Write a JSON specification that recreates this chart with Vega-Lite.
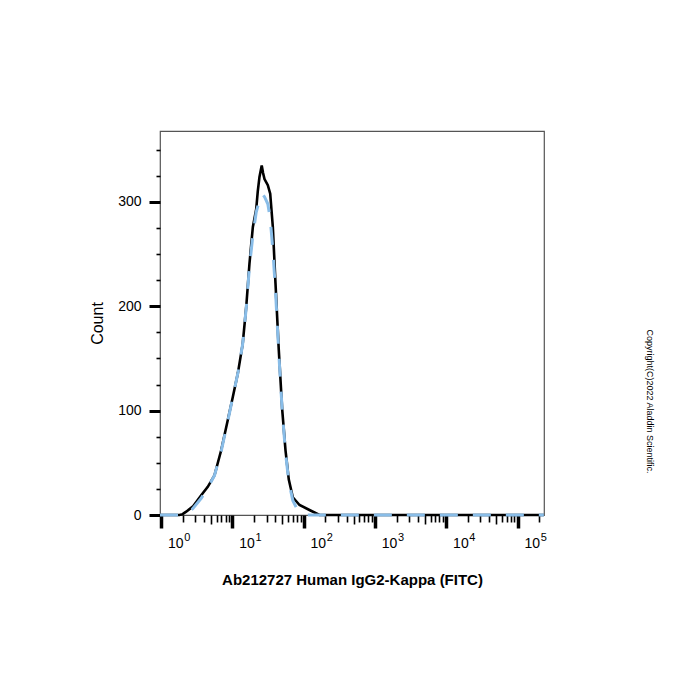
{
  "$schema": "https://vega.github.io/schema/vega-lite/v6.json",
  "autosize": "none",
  "width": 384,
  "height": 384,
  "padding": {"left": 160, "top": 131, "right": 156, "bottom": 185},
  "background": "white",
  "config": {
    "view": {"stroke": "#555555", "strokeWidth": 1.2},
    "font": "Liberation Sans",
    "axis": {"labelFont": "Liberation Sans", "titleFont": "Liberation Sans", "labelColor": "black", "titleColor": "black", "grid": false}
  },
  "datasets": {
    "black": [
      {"x": 0.962, "y": 0}, {"x": 1.8, "y": 0}, {"x": 2.0, "y": 0.8}, {"x": 2.24, "y": 3.2}, {"x": 2.77, "y": 8},
      {"x": 3.64, "y": 19}, {"x": 4.5, "y": 27}, {"x": 5.59, "y": 38}, {"x": 6.94, "y": 62}, {"x": 8.59, "y": 91},
      {"x": 10.1, "y": 113}, {"x": 11.9, "y": 136}, {"x": 13.9, "y": 164}, {"x": 15.6, "y": 200}, {"x": 17.3, "y": 241},
      {"x": 19.3, "y": 276}, {"x": 21.5, "y": 293}, {"x": 22.6, "y": 310}, {"x": 23.9, "y": 324}, {"x": 25.7, "y": 335},
      {"x": 26.8, "y": 328}, {"x": 28.1, "y": 322}, {"x": 31.3, "y": 316}, {"x": 33.8, "y": 308}, {"x": 36.8, "y": 276},
      {"x": 40.1, "y": 222}, {"x": 44.6, "y": 158}, {"x": 49.8, "y": 101}, {"x": 55.4, "y": 62}, {"x": 61.6, "y": 34},
      {"x": 70.1, "y": 17}, {"x": 87.1, "y": 9.6}, {"x": 120, "y": 4.8}, {"x": 166, "y": 0}, {"x": 233000, "y": 0}
    ],
    "blue": [
      {"x": 0.962, "y": 0}, {"x": 1.9, "y": 0}, {"x": 2.24, "y": 2}, {"x": 2.77, "y": 6}, {"x": 3.64, "y": 16},
      {"x": 4.5, "y": 26}, {"x": 5.59, "y": 38}, {"x": 6.94, "y": 61}, {"x": 8.59, "y": 90}, {"x": 10.1, "y": 113},
      {"x": 11.9, "y": 136}, {"x": 13.9, "y": 164}, {"x": 15.6, "y": 199}, {"x": 17.3, "y": 238}, {"x": 19.3, "y": 268},
      {"x": 21.5, "y": 290}, {"x": 23.9, "y": 302}, {"x": 25.9, "y": 308}, {"x": 28.1, "y": 305}, {"x": 31.3, "y": 298},
      {"x": 33.8, "y": 284}, {"x": 36.8, "y": 254}, {"x": 40.1, "y": 215}, {"x": 44.6, "y": 155}, {"x": 49.8, "y": 100},
      {"x": 55.4, "y": 60}, {"x": 61.6, "y": 32}, {"x": 70.1, "y": 14}, {"x": 80, "y": 6}, {"x": 95, "y": 1},
      {"x": 110, "y": 0}, {"x": 233000, "y": 0}
    ]
  },
  "layer": [
    {
      "data": {"name": "black"},
      "mark": {"type": "line", "color": "black", "strokeWidth": 2.6, "interpolate": "linear"},
      "encoding": {
        "x": {
          "field": "x", "type": "quantitative",
          "scale": {"type": "log", "domain": [0.962, 233900], "nice": false},
          "axis": {
            "orient": "bottom",
            "title": "Ab212727 Human IgG2-Kappa (FITC)",
            "titleFontSize": 15, "titleFontWeight": "bold", "titlePadding": 22,
            "domain": false,
            "values": [1,2,3,4,5,6,7,8,9,10,20,30,40,50,60,70,80,90,100,200,300,400,500,600,700,800,900,1000,2000,3000,4000,5000,6000,7000,8000,9000,10000,20000,30000,40000,50000,60000,70000,80000,90000,100000,200000],
            "labelExpr": "indexof([1,10,100,1000,10000,100000], datum.value) >= 0 ? '10' : ''",
            "labelFontSize": 14, "labelOffset": 14, "labelPadding": 8, "labelFlush": false, "labelOverlap": false,
            "tickColor": "black",
            "tickSize": {"condition": [{"test": "indexof([1,10,100,1000,10000,100000], datum.value) >= 0", "value": 13}, {"test": "indexof([5,50,500,5000,50000], datum.value) >= 0", "value": 9}], "value": 7},
            "tickWidth": {"condition": {"test": "indexof([1,10,100,1000,10000,100000], datum.value) >= 0", "value": 3.5}, "value": 1.6}
          }
        },
        "y": {
          "field": "y", "type": "quantitative",
          "scale": {"domain": [0, 368], "nice": false, "zero": true},
          "axis": {
            "orient": "left",
            "title": "Count", "titleFontSize": 16, "titleFontWeight": "normal", "titlePadding": 12,
            "domain": false,
            "values": [0,25,50,75,100,125,150,175,200,225,250,275,300,325,350],
            "labelExpr": "datum.value % 100 === 0 ? datum.label : ''",
            "labelFontSize": 14, "labelPadding": 8,
            "tickColor": "black",
            "tickSize": {"condition": {"test": "datum.value % 100 === 0", "value": 11}, "value": 4},
            "tickWidth": {"condition": {"test": "datum.value % 100 === 0", "value": 3}, "value": 1.6}
          }
        }
      }
    },
    {
      "data": {"name": "blue"},
      "mark": {"type": "line", "color": "#89bde8", "strokeWidth": 3, "strokeDash": [18, 15], "interpolate": "linear"},
      "encoding": {
        "x": {
          "field": "x", "type": "quantitative",
          "axis": {
            "orient": "bottom",
            "title": null, "domain": false, "ticks": false,
            "values": [1,10,100,1000,10000,100000],
            "labelExpr": "'' + round(log(datum.value) / LN10)",
            "labelFontSize": 11, "labelOffset": 25.5, "labelPadding": 16, "labelFlush": false, "labelOverlap": false
          }
        },
        "y": {
          "field": "y", "type": "quantitative",
          "axis": {
            "orient": "right", "domain": false, "ticks": false, "labels": false,
            "title": "Copyright(C)2022 Aladdin Scientific.", "titleFontSize": 9, "titleFontWeight": "normal",
            "titleAngle": 90, "titlePadding": 100, "titleY": 270
          }
        }
      }
    }
  ],
  "resolve": {"axis": {"x": "independent", "y": "independent"}}
}
